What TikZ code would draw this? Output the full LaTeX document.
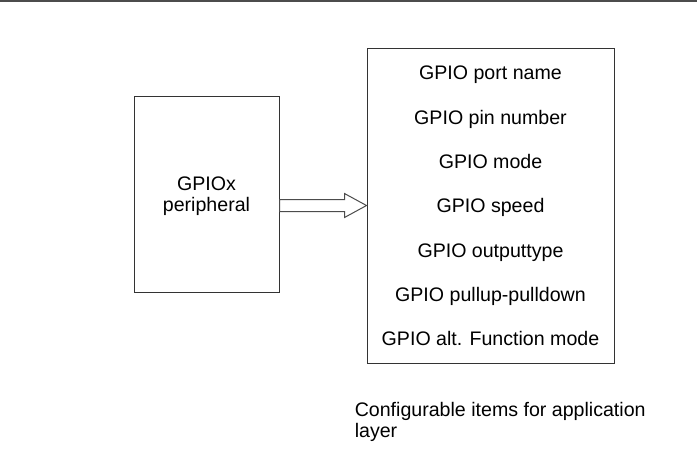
\documentclass[tikz,border=0pt]{standalone}
\usepackage{fontspec}
\setmainfont{Liberation Sans}
\usetikzlibrary{calc,positioning}

\begin{document}
\begin{tikzpicture}[x=0.75pt,y=-0.75pt,
  font=\fontsize{14.7}{15.75}\selectfont,
  box/.style={rectangle,draw=black!80,line width=0.75pt,inner sep=0pt},
  arrowline/.style={draw=black!70,line width=0.75pt,fill=white}]

\useasboundingbox (0,0) rectangle (697,472);

% top rule
\draw[line width=1.5pt,black!70] (0,1) -- (697,1);

%%%%%%%%%%%%%%%%%%%
% boxes
\node[box,minimum width=108.75pt,minimum height=147pt] at (206.5,194) (periph) {};
\node[anchor=base,align=center,inner sep=0pt] at (206.5,211) (periphtext) {GPIOx\\peripheral};
\node[box,minimum width=185.25pt,minimum height=236.25pt] at (490.5,205.5) (list) {};

% items
\foreach \t [count=\i] in {GPIO port name,GPIO pin number,GPIO mode,GPIO speed,GPIO outputtype,GPIO pullup-pulldown,GPIO alt. Function mode}
  \node[anchor=base,inner sep=0pt] at (490.5,35.7+44.28*\i) (item\i) {\t};

% hollow arrow
\coordinate (tip) at (list.west);
\coordinate (tail) at (periph.east |- list.west);
\draw[arrowline] ($(tail)+(0,-6)$) -- ($(tip)+(-22,-6)$) -- ($(tip)+(-22,-12)$) -- (tip)
  -- ($(tip)+(-22,12)$) -- ($(tip)+(-22,6)$) -- ($(tail)+(0,6)$) -- cycle;

\node[anchor=base west,align=left,inner sep=0pt] at (354.5,437.7) (caption) {Configurable items for application\\layer};

\end{tikzpicture}
\end{document}
